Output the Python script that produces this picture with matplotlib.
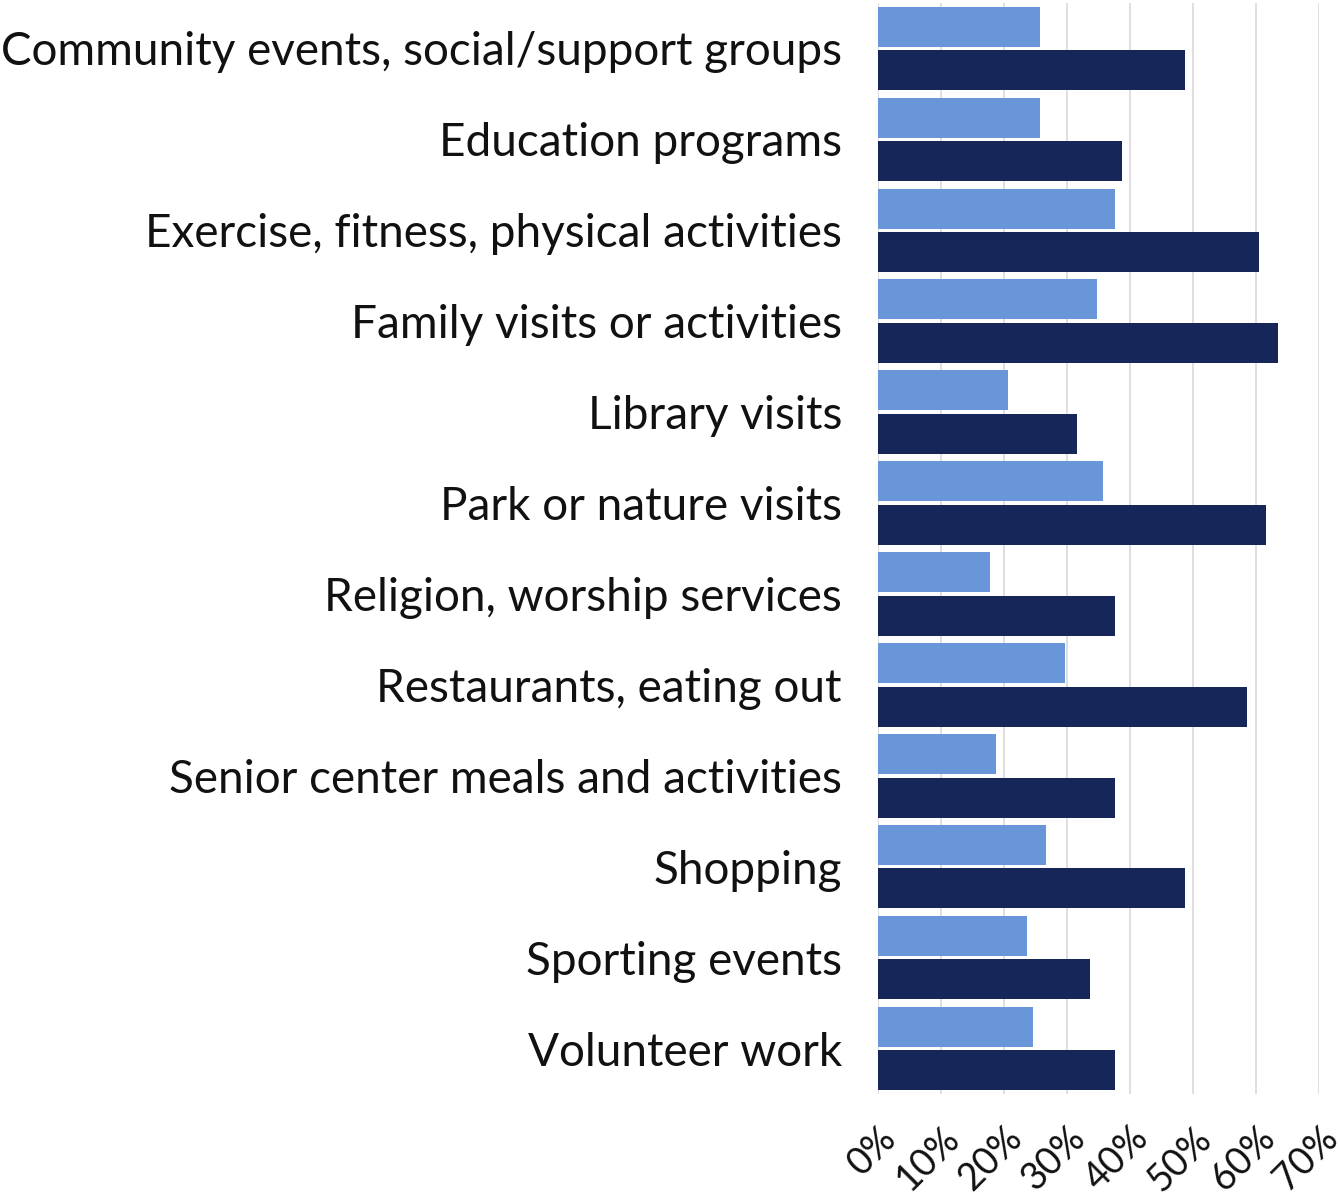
import numpy as np
import matplotlib.pyplot as plt
import matplotlib.transforms as mtransforms

plt.rcParams['font.family'] = ['Lato', 'DejaVu Sans']

activities = [
    "Community events, social/support groups",
    "Education programs",
    "Exercise, fitness, physical activities",
    "Family visits or activities",
    "Library visits",
    "Park or nature visits",
    "Religion, worship services",
    "Restaurants, eating out",
    "Senior center meals and activities",
    "Shopping",
    "Sporting events",
    "Volunteer work",
]
series_a = [25.7, 25.7, 37.6, 34.8, 20.7, 35.7, 17.7, 29.7, 18.8, 26.7, 23.7, 24.6]
series_b = [48.7, 38.7, 60.5, 63.5, 31.6, 61.6, 37.6, 58.6, 37.6, 48.7, 33.6, 37.6]
xticks = [0, 10, 20, 30, 40, 50, 60, 70]

fig = plt.figure(figsize=(13.40, 12.04), dpi=100)
ax = fig.add_axes([878/1340, 1 - 1094/1204, (1319 - 878)/1340, (1094 - 3)/1204])

y = np.arange(len(activities))
h = 0.44
off = 0.239
ax.barh(y - off, series_a, height=h, color='#6896D8', zorder=3)
ax.barh(y + off, series_b, height=h, color='#172658', zorder=3)

ax.set_ylim(len(activities) - 0.5, -0.5)
ax.set_xlim(0, 70)
ax.set_yticks(y)
ax.set_yticklabels(activities, fontsize=33, color='#111111')
ax.tick_params(axis='y', length=0, pad=26)

ax.set_xticks(xticks)
ax.set_xticklabels([f"{t}%" for t in xticks], fontsize=27, rotation=45,
                   ha='right', va='top', rotation_mode='anchor', color='#111111')
ax.tick_params(axis='x', length=0, pad=0)
# rotated percent labels sit up and to the right of each gridline
shift = mtransforms.ScaledTranslation(0.0, -0.26, fig.dpi_scale_trans)
for lbl in ax.get_xticklabels():
    lbl.set_transform(lbl.get_transform() + shift)

ax.grid(axis='x', color='#d9d9d9', linewidth=1.2, zorder=0)
for s in ax.spines.values():
    s.set_visible(False)

fig.savefig('out.png', dpi=100)
